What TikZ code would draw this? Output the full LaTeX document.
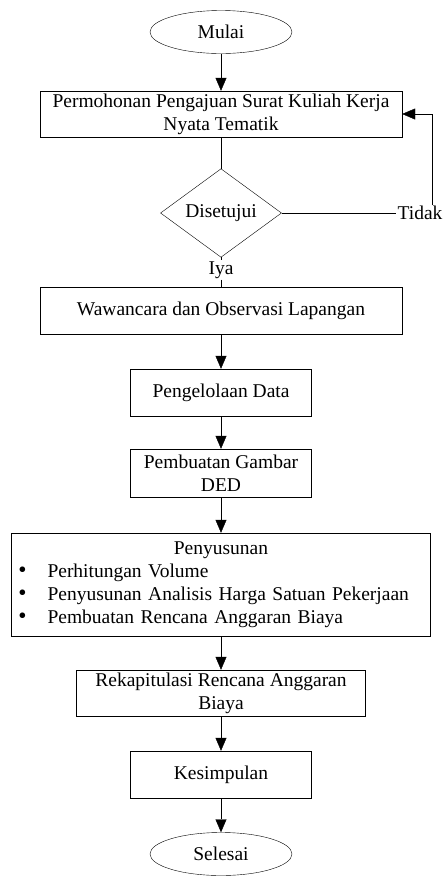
\documentclass[tikz,border=0pt]{standalone}
\usepackage{fontspec}
\usepackage{graphicx}
\setmainfont{Liberation Serif}
\usetikzlibrary{shapes.geometric, positioning, arrows.meta}
\tikzset{
    ->, % directed edges
    >={Triangle[length=13pt, width=11pt]}, % filled arrow heads
    line width=0.9pt, % thin lines
    every node/.style={font=\fontsize{19.5}{23}\selectfont, inner sep=1pt}, % text size
}
\newcommand{\blt}{\hspace*{7pt}\makebox[29pt][l]{\smash{\scalebox{1.2}{\textbullet}}}}
\begin{document}
\begin{tikzpicture}[
                    styleBox/.style={draw, rectangle, align=center, inner sep=0pt, minimum height=47pt},
                    styleEnd/.style={draw, ellipse, inner sep=0pt, minimum width=142pt, minimum height=43pt},
                    styleDec/.style={draw, diamond, inner sep=0pt, minimum width=121pt, minimum height=81pt},
                ]
                \useasboundingbox (0,0) rectangle (444pt,-876pt);
                \node[styleEnd] (st) at (221pt,-32pt) {Mulai};
                \node[styleBox, minimum width=362pt, minimum height=46pt, below of=st, node distance=82pt] (p1) {Permohonan Pengajuan Surat Kuliah Kerja\\Nyata Tematik};
                \node[styleDec, below of=p1, node distance=99pt] (d1) {Disetujui};
                \node[right of=d1, node distance=199pt] (tdk) {Tidak};
                \node[below of=d1, node distance=57pt] (iya) {Iya};
                \node[styleBox, minimum width=362pt, below of=d1, node distance=97.5pt] (p2) {Wawancara dan Observasi Lapangan};
                \node[styleBox, minimum width=181pt, below of=p2, node distance=82pt] (p3) {Pengelolaan Data};
                \node[styleBox, minimum width=181pt, minimum height=48pt, below of=p3, node distance=80.5pt] (p4) {Pembuatan Gambar\\DED};
                \node[styleBox, text width=419pt, align=left, minimum height=103pt, below of=p4, node distance=111.5pt] (p5) {%
                    {\centering Penyusunan\par}
                    \blt Perhitungan Volume\par
                    \blt Penyusunan Analisis Harga Satuan Pekerjaan\par
                    \blt Pembuatan Rencana Anggaran Biaya};
                \node[styleBox, minimum width=289pt, minimum height=46pt, below of=p5, node distance=108.5pt] (p6) {Rekapitulasi Rencana Anggaran\\Biaya};
                \node[styleBox, minimum width=181pt, below of=p6, node distance=81.5pt] (p7) {Kesimpulan};
                \node[styleEnd, below of=p7, node distance=79.5pt] (en) {Selesai};
                \draw
                (st) edge (p1)
                (p1) edge[-] (d1)
                (d1) edge[-] (tdk)
                (d1) edge[-] (iya)
                (iya) edge[-] (p2)
                (p2) edge (p3)
                (p3) edge (p4)
                (p4) edge (p5)
                (p5) edge (p6)
                (p6) edge (p7)
                (p7) edge (en);
                \draw ([xshift=12pt]tdk.north) |- (p1.east);
            \end{tikzpicture}
\end{document}
